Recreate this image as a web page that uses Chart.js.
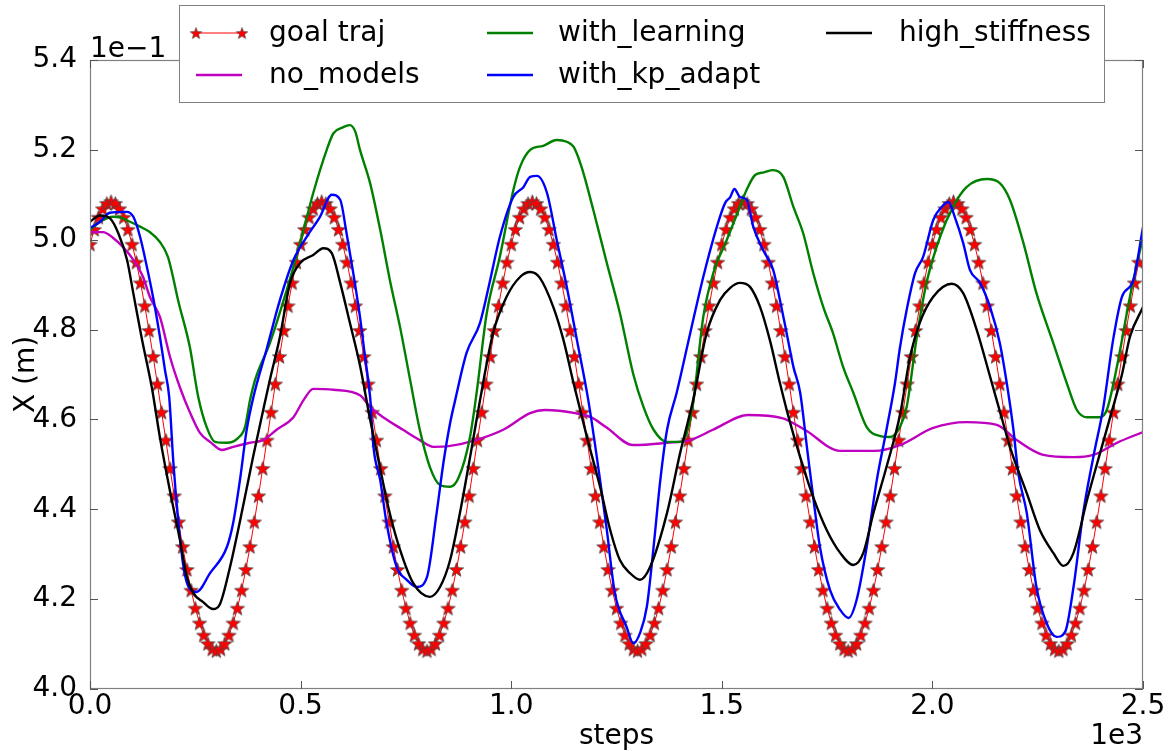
<!DOCTYPE html>
<html>
<head>
<meta charset="utf-8">
<script src="https://cdn.jsdelivr.net/npm/chart.js@4.4.1/dist/chart.umd.min.js"></script>
<style>
  html, body { margin: 0; padding: 0; background: #fff; }
  #wrap { width: 1175px; height: 751px; }
</style>
</head>
<body>
<div id="wrap"><canvas id="chart" width="1175" height="751"></canvas></div>
<script>
// x in steps, y in units of 1e-1 m (as labelled on the axis)
const xTicks = [0, 500, 1000, 1500, 2000, 2500];
const yTicks = [4.0, 4.2, 4.4, 4.6, 4.8, 5.0, 5.2, 5.4];

// goal traj: one marker every 10 steps
const goalVals = [
  4.990,5.023,5.050,5.069,5.081,5.085,5.081,5.069,5.050,5.023,4.990,4.950,4.904,4.853,4.798,4.740,4.679,4.616,4.554,4.491,4.430,4.372,4.317,4.266,4.220,4.180,4.147,4.120,4.101,4.089,4.085,4.089,4.101,4.120,4.147,4.180,4.220,4.266,4.317,4.372,4.430,4.491,4.554,4.616,4.679,4.740,4.798,4.853,4.904,4.950,
  4.990,5.023,5.050,5.069,5.081,5.085,5.081,5.069,5.050,5.023,4.990,4.950,4.904,4.853,4.798,4.740,4.679,4.616,4.554,4.491,4.430,4.372,4.317,4.266,4.220,4.180,4.147,4.120,4.101,4.089,4.085,4.089,4.101,4.120,4.147,4.180,4.220,4.266,4.317,4.372,4.430,4.491,4.554,4.616,4.679,4.740,4.798,4.853,4.904,4.950,
  4.990,5.023,5.050,5.069,5.081,5.085,5.081,5.069,5.050,5.023,4.990,4.950,4.904,4.853,4.798,4.740,4.679,4.616,4.554,4.491,4.430,4.372,4.317,4.266,4.220,4.180,4.147,4.120,4.101,4.089,4.085,4.089,4.101,4.120,4.147,4.180,4.220,4.266,4.317,4.372,4.430,4.491,4.554,4.616,4.679,4.740,4.798,4.853,4.904,4.950,
  4.990,5.023,5.050,5.069,5.081,5.085,5.081,5.069,5.050,5.023,4.990,4.950,4.904,4.853,4.798,4.740,4.679,4.616,4.554,4.491,4.430,4.372,4.317,4.266,4.220,4.180,4.147,4.120,4.101,4.089,4.085,4.089,4.101,4.120,4.147,4.180,4.220,4.266,4.317,4.372,4.430,4.491,4.554,4.616,4.679,4.740,4.798,4.853,4.904,4.950,
  4.990,5.023,5.050,5.069,5.081,5.085,5.081,5.069,5.050,5.023,4.990,4.950,4.904,4.853,4.798,4.740,4.679,4.616,4.554,4.491,4.430,4.372,4.317,4.266,4.220,4.180,4.147,4.120,4.101,4.089,4.085,4.089,4.101,4.120,4.147,4.180,4.220,4.266,4.317,4.372,4.430,4.491,4.554,4.616,4.679,4.740,4.798,4.853,4.904,4.950
];
const goalSteps = goalVals.map((v, i) => i * 10);

// [step, value] pairs
const noModels = [[0,5.017],[31,5.017],[55,5.004],[78,4.984],[103,4.955],[126,4.917],[142,4.873],[166,4.828],[190,4.739],[214,4.67],[238,4.614],[261,4.57],[285,4.55],[313,4.532],[340,4.539],[380,4.548],[411,4.554],[443,4.577],[483,4.605],[507,4.643],[530,4.668],[578,4.666],[641,4.654],[665,4.628],[696,4.605],[743,4.577],[783,4.554],[815,4.539],[855,4.541],[916,4.554],[981,4.577],[1045,4.614],[1080,4.621],[1152,4.614],[1189,4.605],[1225,4.583],[1289,4.543],[1370,4.548],[1425,4.554],[1479,4.577],[1562,4.61],[1643,4.603],[1697,4.577],[1781,4.53],[1862,4.53],[1923,4.543],[2002,4.581],[2081,4.594],[2153,4.588],[2200,4.554],[2263,4.521],[2335,4.516],[2382,4.521],[2438,4.548],[2500,4.572]];

const withLearning = [[0,5.022],[24,5.04],[55,5.051],[71,5.05],[95,5.04],[119,5.029],[142,5.017],[166,4.995],[185,4.962],[197,4.917],[209,4.866],[237,4.761],[257,4.65],[277,4.583],[297,4.55],[325,4.548],[352,4.559],[368,4.583],[380,4.643],[392,4.688],[427,4.77],[467,4.888],[499,4.993],[530,5.104],[562,5.2],[578,5.237],[600,5.25],[617,5.255],[630,5.24],[641,5.2],[665,5.126],[689,5.022],[712,4.91],[736,4.806],[760,4.688],[783,4.577],[807,4.494],[831,4.454],[855,4.45],[875,4.47],[902,4.56],[918,4.66],[942,4.837],[973,4.962],[1005,5.11],[1021,5.162],[1045,5.2],[1076,5.209],[1108,5.222],[1132,5.218],[1148,5.207],[1167,5.162],[1195,5.066],[1227,4.948],[1258,4.837],[1290,4.70],[1314,4.628],[1338,4.577],[1370,4.55],[1401,4.55],[1417,4.57],[1432,4.637],[1456,4.828],[1480,4.926],[1512,5.0],[1543,5.073],[1559,5.111],[1579,5.144],[1600,5.15],[1622,5.155],[1646,5.14],[1670,5.073],[1693,5.015],[1717,4.926],[1741,4.85],[1764,4.792],[1788,4.717],[1812,4.66],[1844,4.583],[1876,4.563],[1899,4.561],[1923,4.583],[1939,4.628],[1963,4.784],[1986,4.904],[2018,5.006],[2049,5.073],[2081,5.117],[2129,5.135],[2160,5.126],[2184,5.089],[2216,4.993],[2247,4.881],[2287,4.77],[2319,4.681],[2343,4.621],[2366,4.605],[2398,4.605],[2414,4.621],[2438,4.717],[2469,4.873],[2500,5.006]];

const withKpAdapt = [[0,5.026],[24,5.04],[47,5.06],[87,5.062],[103,5.051],[119,5.006],[135,4.94],[151,4.866],[166,4.784],[178,4.71],[188,4.65],[198,4.503],[210,4.37],[222,4.272],[234,4.227],[253,4.216],[285,4.258],[325,4.316],[340,4.37],[356,4.465],[372,4.577],[388,4.65],[419,4.755],[451,4.866],[483,4.955],[514,5.006],[546,5.051],[574,5.1],[594,5.089],[609,5.015],[625,4.926],[641,4.828],[653,4.739],[665,4.65],[673,4.539],[689,4.465],[704,4.37],[728,4.272],[752,4.243],[776,4.227],[800,4.249],[823,4.392],[839,4.503],[855,4.592],[867,4.643],[894,4.748],[926,4.815],[950,4.91],[973,5.006],[1005,5.095],[1029,5.117],[1045,5.14],[1061,5.142],[1085,5.104],[1108,5.0],[1132,4.895],[1156,4.777],[1183,4.643],[1211,4.465],[1227,4.354],[1246,4.214],[1274,4.138],[1290,4.102],[1306,4.125],[1322,4.183],[1338,4.316],[1354,4.465],[1370,4.577],[1393,4.66],[1425,4.792],[1456,4.917],[1488,5.028],[1508,5.082],[1520,5.095],[1530,5.113],[1543,5.095],[1559,5.089],[1575,5.028],[1598,4.977],[1622,4.933],[1638,4.866],[1654,4.792],[1670,4.717],[1686,4.66],[1702,4.539],[1717,4.427],[1733,4.316],[1757,4.22],[1781,4.176],[1801,4.158],[1820,4.198],[1844,4.316],[1868,4.465],[1891,4.577],[1911,4.68],[1923,4.76],[1939,4.844],[1959,4.926],[1978,4.962],[2002,5.044],[2022,5.073],[2038,5.084],[2053,5.051],[2073,4.993],[2089,4.933],[2113,4.904],[2137,4.85],[2160,4.77],[2180,4.66],[2192,4.58],[2204,4.48],[2224,4.392],[2247,4.227],[2271,4.147],[2295,4.116],[2315,4.127],[2335,4.227],[2358,4.392],[2382,4.516],[2406,4.628],[2429,4.777],[2450,4.873],[2477,4.91],[2500,5.028]];

const highStiffness = [[0,5.04],[24,5.054],[47,5.048],[67,5.015],[88,4.955],[103,4.88],[123,4.78],[147,4.67],[166,4.56],[190,4.44],[214,4.33],[230,4.25],[245,4.214],[268,4.194],[292,4.178],[309,4.19],[332,4.27],[363,4.405],[387,4.516],[411,4.62],[427,4.688],[451,4.784],[475,4.904],[499,4.948],[530,4.966],[554,4.981],[574,4.97],[594,4.904],[617,4.815],[641,4.72],[665,4.60],[689,4.49],[712,4.39],[736,4.31],[767,4.236],[807,4.205],[831,4.227],[855,4.287],[880,4.40],[905,4.53],[926,4.643],[957,4.792],[989,4.873],[1021,4.917],[1045,4.928],[1068,4.915],[1100,4.85],[1124,4.777],[1148,4.681],[1180,4.56],[1211,4.45],[1235,4.354],[1258,4.287],[1282,4.258],[1306,4.243],[1330,4.272],[1370,4.392],[1401,4.525],[1432,4.643],[1464,4.792],[1496,4.866],[1520,4.893],[1543,4.904],[1567,4.895],[1591,4.85],[1614,4.777],[1638,4.681],[1660,4.60],[1686,4.516],[1717,4.427],[1749,4.354],[1781,4.303],[1812,4.276],[1836,4.303],[1860,4.392],[1891,4.494],[1923,4.61],[1947,4.739],[1970,4.815],[2002,4.873],[2046,4.902],[2073,4.881],[2105,4.8],[2137,4.695],[2168,4.592],[2184,4.539],[2224,4.436],[2255,4.354],[2287,4.303],[2311,4.274],[2335,4.303],[2367,4.42],[2398,4.525],[2429,4.628],[2450,4.70],[2469,4.784],[2500,4.85]];

const FONT = "'DejaVu Sans', 'Liberation Sans', sans-serif";
const FS = 28;

// filled star marker like matplotlib '*'
function makeStar(size) {
    const c = document.createElement('canvas');
    c.width = size; c.height = size;
    const g = c.getContext('2d');
    const cx = size / 2, cy = size / 2 + 0.7, ro = size / 2 - 1, ri = ro * 0.42;
    g.beginPath();
    for (let i = 0; i < 10; i++) {
        const r = i % 2 === 0 ? ro : ri;
        const a = -Math.PI / 2 + i * Math.PI / 5;
        const px = cx + r * Math.cos(a), py = cy + r * Math.sin(a);
        if (i === 0) g.moveTo(px, py); else g.lineTo(px, py);
    }
    g.closePath();
    g.fillStyle = '#ff0000';
    g.fill();
    g.lineWidth = 0.9;
    g.strokeStyle = 'rgba(70,70,70,0.85)';
    g.stroke();
    return c;
}
const star = makeStar(17);

function pairs(arr) { return arr.map(p => ({ x: p[0], y: p[1] })); }

// frame, inward ticks, offset texts, axis titles, legend
const decor = {
    id: 'decor',
    afterDraw(chart) {
        const ctx = chart.ctx, a = chart.chartArea;
        const xs = chart.scales.x, ys = chart.scales.y;
        ctx.save();
        ctx.strokeStyle = '#808080';
        ctx.lineWidth = 1.2;
        ctx.strokeRect(a.left + 0.5, a.top + 0.5, a.right - a.left - 1, a.bottom - a.top - 1);
        ctx.strokeStyle = '#555';
        ctx.lineWidth = 1;
        ctx.beginPath();
        xs.ticks.forEach(t => {
            const px = Math.round(xs.getPixelForValue(t.value)) + 0.5;
            ctx.moveTo(px, a.bottom); ctx.lineTo(px, a.bottom - 8);
            ctx.moveTo(px, a.top); ctx.lineTo(px, a.top + 8);
        });
        ys.ticks.forEach(t => {
            const py = Math.round(ys.getPixelForValue(t.value)) + 0.5;
            ctx.moveTo(a.left, py); ctx.lineTo(a.left + 8, py);
            ctx.moveTo(a.right, py); ctx.lineTo(a.right - 8, py);
        });
        ctx.stroke();

        ctx.fillStyle = '#000';
        ctx.font = FS + 'px ' + FONT;
        ctx.textBaseline = 'alphabetic';
        ctx.textAlign = 'left';
        ctx.fillText('1e\u22121', a.left, a.top - 3);
        ctx.textAlign = 'right';
        ctx.fillText('1e3', a.right, 744);
        ctx.textAlign = 'center';
        ctx.fillText('steps', (a.left + a.right) / 2, 744);
        ctx.save();
        ctx.translate(34, (a.top + a.bottom) / 2);
        ctx.rotate(-Math.PI / 2);
        ctx.fillText('X (m)', 0, 0);
        ctx.restore();

        // legend: 3 columns, filled column by column
        const lx = 179, ly = 5, lw = 925, lh = 97;
        ctx.fillStyle = '#fff';
        ctx.fillRect(lx, ly, lw, lh);
        ctx.strokeStyle = '#808080';
        ctx.lineWidth = 1;
        ctx.strokeRect(lx + 0.5, ly + 0.5, lw, lh);
        const cols = [[196, 269], [487, 558], [826, 899]];
        const rows = [33, 75];
        ctx.textAlign = 'left';
        ctx.textBaseline = 'middle';
        chart.data.datasets.forEach((ds, i) => {
            const c = cols[Math.floor(i / 2)], y = rows[i % 2];
            const x0 = c[0], x1 = c[0] + 46;
            ctx.strokeStyle = ds.borderColor;
            ctx.lineWidth = ds.borderWidth;
            ctx.beginPath();
            ctx.moveTo(x0, y); ctx.lineTo(x1, y);
            ctx.stroke();
            if (ds.pointStyle === star) {
                ctx.drawImage(star, x0 - 7, y - 7, 14, 14);
                ctx.drawImage(star, x1 - 7, y - 7, 14, 14);
            }
            ctx.fillStyle = '#000';
            ctx.fillText(ds.label, c[1], y + 1);
        });
        ctx.restore();
    }
};

const lineDefaults = { pointRadius: 0, borderWidth: 2.4, cubicInterpolationMode: 'monotone', fill: false };

new Chart(document.getElementById('chart'), {
    type: 'line',
    data: {
        datasets: [
            { label: 'goal traj', data: goalSteps.map((s, i) => ({ x: s, y: goalVals[i] })),
              borderColor: '#ff0000', borderWidth: 1, pointStyle: star, pointRadius: 8, tension: 0, order: 5 },
            Object.assign({ label: 'no_models', data: pairs(noModels), borderColor: '#bf00bf', order: 4 }, lineDefaults),
            Object.assign({ label: 'with_learning', data: pairs(withLearning), borderColor: '#008000', order: 3 }, lineDefaults),
            Object.assign({ label: 'with_kp_adapt', data: pairs(withKpAdapt), borderColor: '#0000ff', order: 2 }, lineDefaults),
            Object.assign({ label: 'high_stiffness', data: pairs(highStiffness), borderColor: '#000000', order: 1 }, lineDefaults)
        ]
    },
    options: {
        responsive: false,
        animation: false,
        layout: { padding: { top: 60, right: 32, left: 0, bottom: 0 } },
        plugins: { legend: { display: false }, tooltip: { enabled: false } },
        scales: {
            x: {
                type: 'linear', min: 0, max: 2500,
                afterBuildTicks: s => { s.ticks = xTicks.map(v => ({ value: v })); },
                afterFit: s => { s.height = 62; },
                grid: { display: false }, border: { display: false },
                ticks: { color: '#000', font: { family: FONT, size: FS }, padding: -7, maxRotation: 0, autoSkip: false,
                         callback: v => (v / 1000).toFixed(1) }
            },
            y: {
                type: 'linear', min: 4.0, max: 5.4,
                afterBuildTicks: s => { s.ticks = yTicks.map(v => ({ value: v })); },
                afterFit: s => { s.width = 90; },
                grid: { display: false }, border: { display: false },
                ticks: { color: '#000', font: { family: FONT, size: FS }, padding: 5, autoSkip: false,
                         callback: v => v.toFixed(1) }
            }
        }
    },
    plugins: [decor]
});
</script>
</body>
</html>
